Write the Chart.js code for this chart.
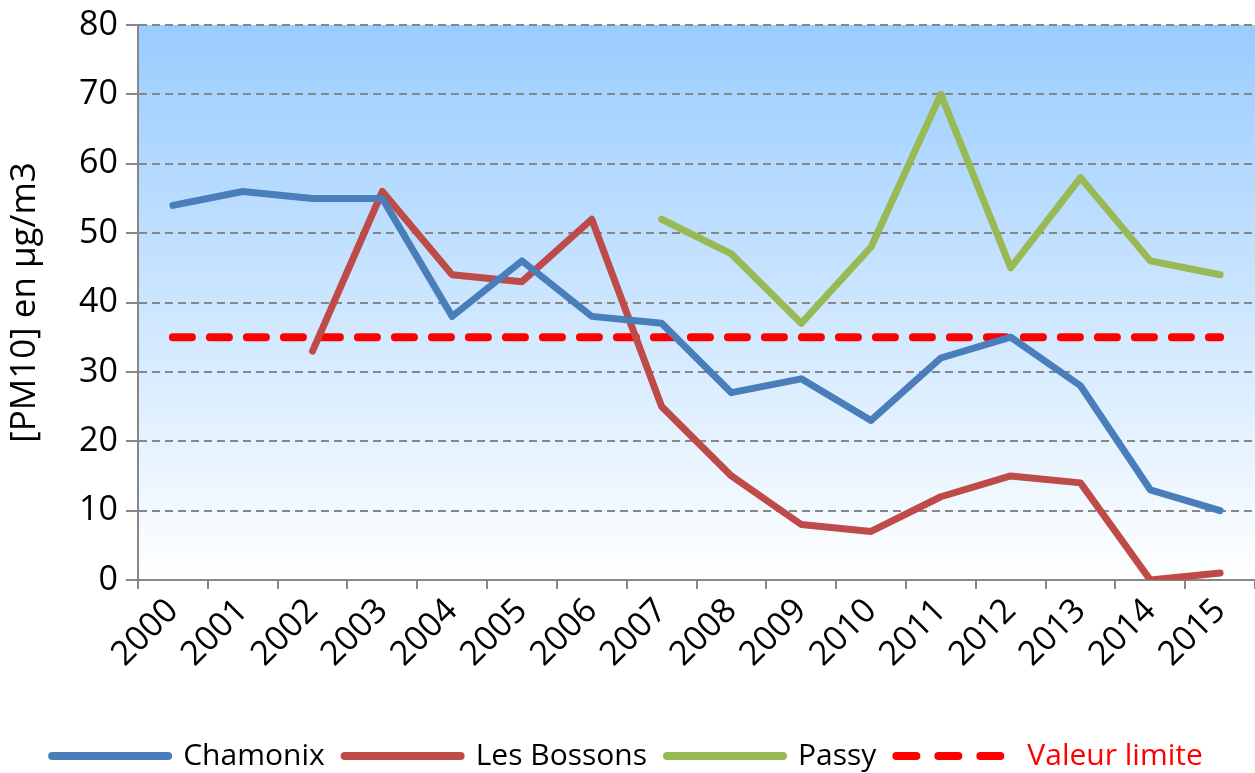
<!DOCTYPE html>
<html>
<head>
<meta charset="utf-8">
<script src="https://cdn.jsdelivr.net/npm/chart.js@4"></script>
<style>
  html, body { margin: 0; padding: 0; background: #fff; }
  #wrap { width: 1255px; height: 773px; }
</style>
</head>
<body>
<div id="wrap"><canvas id="pm10"></canvas></div>
<script>
// PM10 annual means, vallée de l'Arve
const years = ["2000", "2001", "2002", "2003", "2004", "2005", "2006", "2007",
  "2008", "2009", "2010", "2011", "2012", "2013", "2014", "2015"];
const chamonix = [54, 56, 55, 55, 38, 46, 38, 37, 27, 29, 23, 32, 35, 28, 13, 10];
const bossons = [null, null, 33, 56, 44, 43, 52, 25, 15, 8, 7, 12, 15, 14, 0, 1];
const passy = [null, null, null, null, null, null, null, 52, 47, 37, 48, 70, 45, 58, 46, 44];
const limite = [35, 35, 35, 35, 35, 35, 35, 35, 35, 35, 35, 35, 35, 35, 35, 35];
const yTicks = [0, 10, 20, 30, 40, 50, 60, 70, 80];

const FONT = '"Open Sans", sans-serif';
const GRID = "#878787";

// gradient fill behind the plot area
const plotBg = {
  id: "plotBg",
  beforeDraw(chart) {
    const { ctx, chartArea: a } = chart;
    if (!a) return;
    const g = ctx.createLinearGradient(0, a.top, 0, a.bottom);
    g.addColorStop(0, "#99CCFF");
    g.addColorStop(1, "#FFFFFF");
    ctx.save();
    ctx.fillStyle = g;
    ctx.fillRect(a.left, a.top, a.right - a.left, a.bottom - a.top);
    ctx.restore();
  },
};

const line = (label, data, color, extra) => ({
  label,
  data,
  borderColor: color,
  backgroundColor: color,
  borderWidth: 7,
  borderCapStyle: "round",
  borderJoinStyle: "round",
  pointRadius: 0,
  pointHoverRadius: 0,
  tension: 0,
  fill: false,
  ...extra,
});

new Chart(document.getElementById("pm10"), {
  type: "line",
  data: {
    labels: years,
    datasets: [
      line("Chamonix", chamonix, "#4A7EBB"),
      line("Les Bossons", bossons, "#BE4B48"),
      line("Passy", passy, "#98B954"),
      line("Valeur limite", limite, "#FF0000", { borderWidth: 8, borderDash: [19, 18] }),
    ],
  },
  options: {
    responsive: true,
    maintainAspectRatio: false,
    animation: false,
    layout: { padding: { top: 24, right: 0, left: 0, bottom: -8 } },
    plugins: {
      tooltip: { enabled: false },
      legend: {
        position: "bottom",
        labels: {
          usePointStyle: true,
          pointStyleWidth: 116,
          padding: 20,
          font: { family: FONT, size: 30 },
          generateLabels(chart) {
            return chart.data.datasets.map((ds, i) => ({
              text: ds.label,
              datasetIndex: i,
              fillStyle: ds.borderColor,
              strokeStyle: ds.borderColor,
              lineWidth: 8,
              lineCap: "round",
              lineDash: ds.borderDash ? [20, 22] : [],
              pointStyle: "line",
              fontColor: i === 3 ? "#FF0000" : "#000000",
              hidden: false,
            }));
          },
        },
      },
    },
    scales: {
      x: {
        offset: true,
        afterFit(scale) {
          scale.height = 141;
        },
        grid: {
          offset: true,
          drawOnChartArea: false,
          drawTicks: true,
          tickLength: 9,
          color: GRID,
          lineWidth: 2,
        },
        border: { color: GRID, width: 2 },
        ticks: {
          color: "#000",
          font: { family: FONT, size: 34 },
          minRotation: 45,
          maxRotation: 45,
          padding: 2,
        },
      },
      y: {
        min: 0,
        max: 80,
        afterBuildTicks(scale) {
          scale.ticks = yTicks.map((v) => ({ value: v }));
        },
        afterFit(scale) {
          scale.width = 138;
        },
        grid: {
          color: GRID,
          lineWidth: 2,
          tickLength: 12,
          tickColor: GRID,
          tickBorderDash: [],
        },
        border: { color: GRID, width: 2, dash: [8, 5] },
        ticks: {
          color: "#000",
          font: { family: FONT, size: 34, lineHeight: 1 },
          padding: 8,
        },
        title: {
          display: true,
          text: "[PM10] en µg/m3",
          color: "#000",
          font: { family: FONT, size: 35 },
          padding: { top: 4, bottom: 0 },
        },
      },
    },
  },
  plugins: [plotBg],
});
</script>
</body>
</html>
